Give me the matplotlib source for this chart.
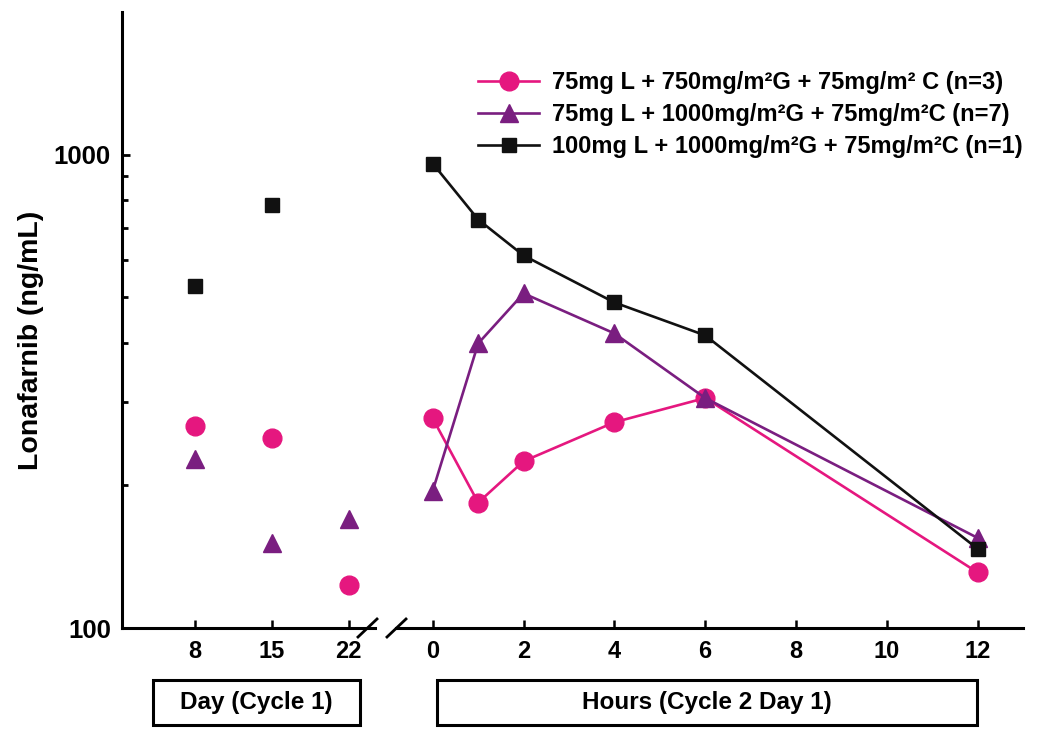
import matplotlib
matplotlib.use("Agg")
import matplotlib.pyplot as plt
from matplotlib.patches import Rectangle

plt.rcParams['font.family'] = ['Liberation Sans', 'DejaVu Sans']
plt.rcParams['font.weight'] = 'bold'

# cycle 1 (days) - single points
days = ['8', '15', '22']
day_low = [267, 252, 123]        # 75mg L + 750 G
day_mid = [227, 151, 170]        # 75mg L + 1000 G
day_high = [527, 784, None]      # 100mg L + 1000 G

# cycle 2 day 1 (hours)
hours = [0, 1, 2, 4, 6, 12]
hr_low = [277, 184, 225, 272, 306, 131]
hr_mid = [195, 399, 509, 419, 306, 155]
hr_high = [957, 729, 612, 487, 415, 147]

labels = ['75mg L + 750mg/m²G + 75mg/m² C (n=3)',
          '75mg L + 1000mg/m²G + 75mg/m²C (n=7)',
          '100mg L + 1000mg/m²G + 75mg/m²C (n=1)']
colors = ['#E5177F', '#7A1E80', '#111111']
markers = ['o', '^', 's']
msizes = [13.5, 13.5, 10.5]

W, H = 1050, 738
fig = plt.figure(figsize=(W / 100, H / 100), dpi=100)

def fx(px):
    return px / W

def fy(py):
    return 1 - py / H

ax1 = fig.add_axes([fx(122), fy(628), fx(375) - fx(122), fy(12) - fy(628)])
ax2 = fig.add_axes([fx(396), fy(628), fx(1023) - fx(396), fy(12) - fy(628)], sharey=ax1)

ax1.set_yscale('log')
ax1.set_ylim(100, 2000)

# left: day points
xd = list(range(len(days)))
for vals, c, m, ms in zip([day_low, day_mid, day_high], colors, markers, msizes):
    pts = [(x, v) for x, v in zip(xd, vals) if v is not None]
    ax1.plot([p[0] for p in pts], [p[1] for p in pts], linestyle='none',
             marker=m, color=c, markersize=ms, clip_on=False)
ax1.set_xlim(-0.95, 2.34)
ax1.set_xticks(xd)
ax1.set_xticklabels(days)

# right: hours profiles
for vals, c, m, ms, lab in zip([hr_low, hr_mid, hr_high], colors, markers, msizes, labels):
    ax2.plot(hours, vals, marker=m, color=c, markersize=ms, linewidth=1.9,
             label=lab, clip_on=False)
ax2.set_xlim(-0.81, 13.0)
ax2.set_xticks([0, 2, 4, 6, 8, 10, 12])

# spines / ticks
for ax in (ax1, ax2):
    ax.spines['top'].set_visible(False)
    ax.spines['right'].set_visible(False)
    ax.spines['bottom'].set_linewidth(2.2)
    ax.tick_params(axis='x', direction='in', length=6, width=1.8, pad=9, labelsize=17)
ax1.spines['left'].set_linewidth(2.2)
ax2.spines['left'].set_visible(False)

ax1.set_yticks([100, 1000])
ax1.set_yticklabels(['100', '1000'])
ax1.set_yticks([200, 300, 400, 500, 600, 700, 800, 900], minor=True)
ax1.yaxis.set_minor_formatter(plt.NullFormatter())
ax1.tick_params(axis='y', which='major', direction='in', length=6, width=2, pad=8, labelsize=18.5)
ax1.tick_params(axis='y', which='minor', direction='in', length=4, width=2)
ax2.tick_params(axis='y', which='both', left=False, labelleft=False)

# axis break marks
fig.add_artist(plt.Line2D([fx(358), fx(377)], [fy(637), fy(619)], color='black', lw=2))
fig.add_artist(plt.Line2D([fx(387), fx(406)], [fy(637), fy(619)], color='black', lw=2))

ax2.legend(loc='upper left', bbox_to_anchor=(fx(478), fy(71)), bbox_transform=fig.transFigure,
           frameon=False, fontsize=17, handlelength=2.6, handletextpad=0.55,
           labelspacing=0.38, borderaxespad=0, borderpad=0)

fig.text(fx(31), fy(340), 'Lonafarnib (ng/mL)', rotation=90, ha='center', va='center', fontsize=20.5)

# boxed axis titles
for x0, x1, txt in [(153, 360, 'Day (Cycle 1)'), (437, 977, 'Hours (Cycle 2 Day 1)')]:
    fig.add_artist(Rectangle((fx(x0), fy(725)), fx(x1) - fx(x0), fy(680) - fy(725),
                             transform=fig.transFigure, fill=False, lw=2.2, edgecolor='black'))
    fig.text((fx(x0) + fx(x1)) / 2, fy(703), txt, ha='center', va='center', fontsize=17.5)

fig.savefig('out.png', dpi=100)
